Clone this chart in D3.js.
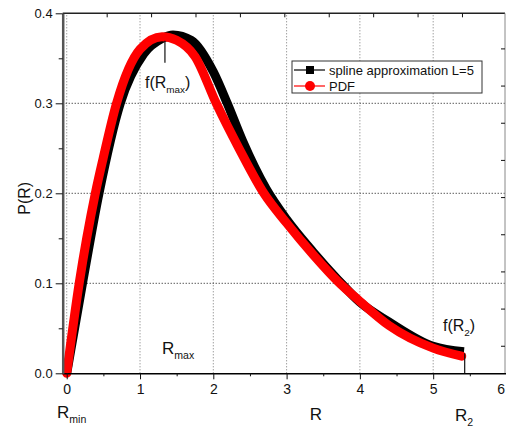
<!DOCTYPE html>
<html>
<head>
<meta charset="utf-8">
<script src="https://cdn.jsdelivr.net/npm/d3@7"></script>
<style>
  body { margin: 0; background: #fff; }
  svg { font-family: Arial, "Liberation Sans", sans-serif; }
</style>
</head>
<body>
<svg id="c" width="506" height="428"></svg>
<script>
  // spline approximation L=5
  const splineR = [0, 0.215, 0.44, 0.73, 1.05, 1.3, 1.45, 1.7, 2.0, 2.19, 2.4, 2.72, 3.0, 3.36, 3.7, 4.0, 4.4, 5.0, 5.42];
  const splineP = [0, 0.1, 0.2, 0.3, 0.355, 0.372, 0.376, 0.37, 0.335, 0.3, 0.258, 0.205, 0.171, 0.135, 0.104, 0.079, 0.057, 0.030, 0.024];
  // PDF
  const pdfR = [0, 0.17, 0.39, 0.5, 0.68, 1.0, 1.3, 1.5, 1.75, 2.04, 2.35, 2.69, 3.0, 3.36, 3.7, 4.0, 4.4, 5.0, 5.39];
  const pdfP = [0, 0.1, 0.2, 0.24, 0.3, 0.36, 0.374, 0.370, 0.352, 0.3, 0.25, 0.2, 0.167, 0.132, 0.102, 0.08, 0.053, 0.028, 0.019];

  const xTicks = [0, 1, 2, 3, 4, 5, 6];
  const xMinor = [0.5, 1.5, 2.5, 3.5, 4.5, 5.5];
  const yTicks = [0, 0.1, 0.2, 0.3, 0.4];
  const yMinor = [0.05, 0.15, 0.25, 0.35];
  const topTicks = [0.545, 1.151, 1.757, 2.363, 2.969, 3.575, 4.181, 4.787, 5.393];
  const rightTicks = [0.361, 0.3197, 0.2784, 0.2371, 0.1958, 0.1545, 0.1132, 0.0719, 0.0306];

  const rMax = 1.34, pMax = 0.374;
  const r2 = 5.43, p2 = 0.02;

  const svg = d3.select('#c');
  const x = d3.scaleLinear().domain([-0.055, 5.98]).range([62.7, 505]);
  const y = d3.scaleLinear().domain([0, 0.4]).range([373.3, 13.3]);
  const [x0, x1] = x.range();
  const [y0, y1] = y.range();

  // grid
  svg.append('g').selectAll('line').data([0, 1, 2, 3, 4, 5]).enter().append('line')
    .attr('x1', d => x(d)).attr('x2', d => x(d))
    .attr('y1', y0).attr('y2', y1)
    .attr('stroke', '#777').attr('stroke-width', 1).attr('stroke-dasharray', '1,2');
  svg.append('g').selectAll('line').data([0.1, 0.2, 0.3]).enter().append('line')
    .attr('x1', x0).attr('x2', x1)
    .attr('y1', d => y(d)).attr('y2', d => y(d))
    .attr('stroke', '#111').attr('stroke-width', 1).attr('stroke-dasharray', '1,2');

  const line = d3.line().x(d => x(d[0])).y(d => y(d[1])).curve(d3.curveMonotoneX);

  svg.append('path').datum(d3.zip(splineR, splineP))
    .attr('d', line).attr('fill', 'none')
    .attr('stroke', '#000').attr('stroke-width', 9).attr('stroke-linejoin', 'round');
  svg.append('path').datum(d3.zip(pdfR, pdfP))
    .attr('d', line).attr('fill', 'none')
    .attr('stroke', '#f00').attr('stroke-width', 9)
    .attr('stroke-linejoin', 'round').attr('stroke-linecap', 'round');

  // frame and axes
  svg.append('line').attr('x1', x0).attr('x2', x1).attr('y1', y1).attr('y2', y1)
    .attr('stroke', '#222').attr('stroke-width', 1.5);
  svg.append('line').attr('x1', x1).attr('x2', x1).attr('y1', y1).attr('y2', y0)
    .attr('stroke', '#888').attr('stroke-width', 1);

  const topAxis = svg.append('g').attr('transform', `translate(0,${y1})`)
    .call(d3.axisBottom(x).tickValues(topTicks).tickSize(4).tickFormat(''));
  topAxis.select('.domain').remove();
  const rightAxis = svg.append('g').attr('transform', `translate(${x1},0)`)
    .call(d3.axisLeft(y).tickValues(rightTicks).tickSize(4).tickFormat(''));
  rightAxis.select('.domain').remove();

  const xAxisG = svg.append('g').attr('transform', `translate(0,${y0})`)
    .call(d3.axisBottom(x).tickValues(xTicks).tickSize(6).tickSizeOuter(0).tickPadding(5)
      .tickFormat(d3.format('d')));
  xAxisG.select('.domain').attr('stroke', '#000').attr('stroke-width', 1.5)
    .attr('d', `M${x0},0.5H${x1 + 2}`);
  xAxisG.selectAll('text').attr('font-size', 14).attr('fill', '#111');
  // last label sits at the very edge, keep it inside the picture
  xAxisG.selectAll('.tick').filter(d => d === 6).select('text')
    .attr('text-anchor', 'end').attr('dx', -2);
  svg.append('g').attr('transform', `translate(0,${y0})`)
    .call(d3.axisBottom(x).tickValues(xMinor).tickSize(3).tickFormat(''))
    .select('.domain').remove();

  const yAxisG = svg.append('g').attr('transform', `translate(${x0},0)`)
    .call(d3.axisLeft(y).tickValues(yTicks).tickSize(7).tickSizeOuter(0).tickPadding(3)
      .tickFormat(d3.format('.1f')));
  yAxisG.select('.domain').attr('stroke', '#555').attr('stroke-width', 2.5);
  yAxisG.selectAll('text').attr('font-size', 13).attr('fill', '#111');
  svg.append('g').attr('transform', `translate(${x0},0)`)
    .call(d3.axisLeft(y).tickValues(yMinor).tickSize(4).tickFormat(''))
    .select('.domain').remove();

  svg.selectAll('.tick line').attr('stroke', '#111');

  // axis titles
  svg.append('text').attr('transform', `translate(30,${(y0 + y1) / 2 + 5}) rotate(-90)`)
    .attr('text-anchor', 'middle').attr('font-size', 16).attr('fill', '#111').text('P(R)');
  svg.append('text').attr('x', 316).attr('y', 420).attr('text-anchor', 'middle')
    .attr('font-size', 17).attr('fill', '#111').text('R');

  const sub = (px, py, main, s, size) => {
    const t = svg.append('text').attr('x', px).attr('y', py).attr('font-size', size).attr('fill', '#111');
    t.append('tspan').text(main);
    t.append('tspan').attr('dy', 5).attr('font-size', size * 0.62).text(s);
    return t;
  };
  sub(57, 418, 'R', 'min', 17);
  sub(162, 354, 'R', 'max', 17);
  sub(455, 421, 'R', '2', 17);

  const fr = sub(145, 88, 'f(R', 'max', 16);
  fr.append('tspan').attr('dy', -5).text(')');
  const f2 = sub(443, 331, 'f(R', '2', 16);
  f2.append('tspan').attr('dy', -5).text(')');

  // marker lines
  svg.append('line').attr('x1', x(rMax)).attr('x2', x(rMax))
    .attr('y1', y(pMax) + 4).attr('y2', y(pMax) + 26).attr('stroke', '#111').attr('stroke-width', 1.2);
  svg.append('line').attr('x1', x(r2)).attr('x2', x(r2))
    .attr('y1', y(p2) - 2).attr('y2', y0).attr('stroke', '#111').attr('stroke-width', 1.2);

  // legend
  const lg = svg.append('g').attr('transform', 'translate(292,61)');
  lg.append('rect').attr('width', 190).attr('height', 32)
    .attr('fill', '#fff').attr('stroke', '#333').attr('stroke-width', 1);
  const items = [
    { name: 'spline approximation L=5', color: '#000', shape: 'square' },
    { name: 'PDF', color: '#f00', shape: 'circle' }
  ];
  items.forEach((it, i) => {
    const row = lg.append('g').attr('transform', `translate(0,${9 + i * 16})`);
    row.append('line').attr('x1', 2).attr('x2', 33).attr('stroke', it.color).attr('stroke-width', 1.2);
    if (it.shape === 'square') {
      row.append('rect').attr('x', 14).attr('y', -4).attr('width', 8).attr('height', 8).attr('fill', it.color);
    } else {
      row.append('circle').attr('cx', 18).attr('r', 5).attr('fill', it.color);
    }
    row.append('text').attr('x', 37).attr('y', 5).attr('font-size', 13).attr('fill', '#111').text(it.name);
  });
</script>
</body>
</html>
